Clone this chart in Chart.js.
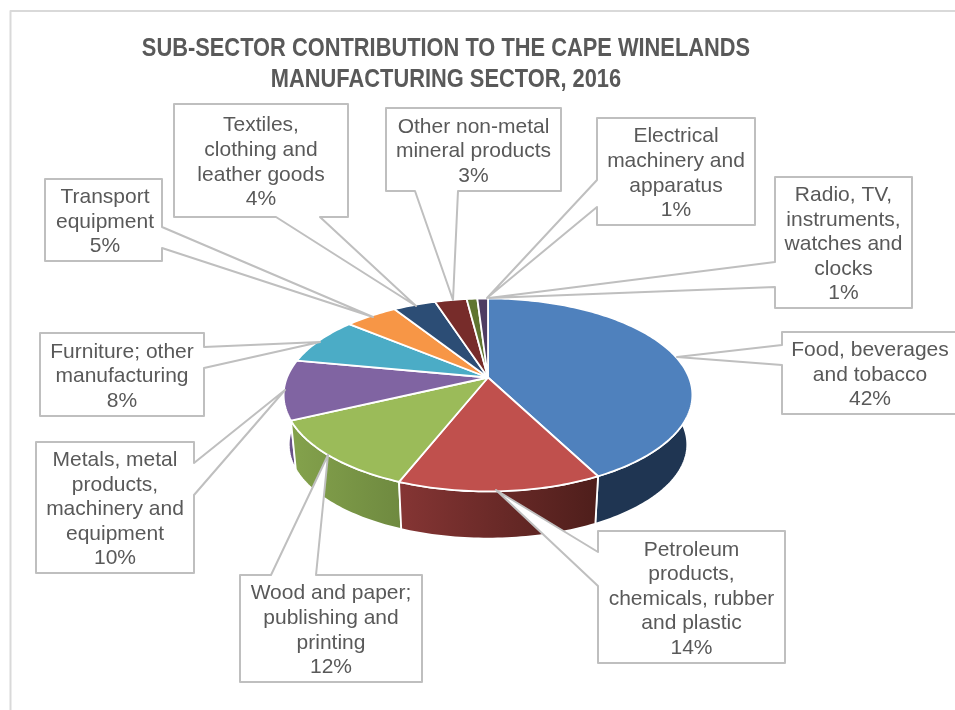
<!DOCTYPE html>
<html><head><meta charset="utf-8">
<style>html,body{margin:0;padding:0;background:#fff}#wrap{position:relative;width:955px;height:710px}canvas{display:block}</style>
<script src="https://cdn.jsdelivr.net/npm/chart.js@4"></script>
</head><body><div id="wrap"><canvas id="c" width="955" height="710"></canvas></div>
<script>
const categories = ["Food, beverages and tobacco","Petroleum products, chemicals, rubber and plastic","Wood and paper; publishing and printing","Metals, metal products, machinery and equipment","Furniture; other manufacturing","Transport equipment","Textiles, clothing and leather goods","Other non-metal mineral products","Electrical machinery and apparatus","Radio, TV, instruments, watches and clocks"];
const shares = [42.4,13.6,12,10,8,5,4,3,1,1];
const titleLines = ["SUB-SECTOR CONTRIBUTION TO THE CAPE WINELANDS","MANUFACTURING SECTOR, 2016"];
const labelLines = [
 ["Food, beverages","and tobacco"],
 ["Petroleum","products,","chemicals, rubber","and plastic"],
 ["Wood and paper;","publishing and","printing"],
 ["Metals, metal","products,","machinery and","equipment"],
 ["Furniture; other","manufacturing"],
 ["Transport","equipment"],
 ["Textiles,","clothing and","leather goods"],
 ["Other non-metal","mineral products"],
 ["Electrical","machinery and","apparatus"],
 ["Radio, TV,","instruments,","watches and","clocks"]
];
const topColors = ["#4f81bd","#c0504d","#9bbb59","#8064a2","#4bacc6","#f79646","#2c4d75","#772c2a","#5f7530","#4d3b62"];
const wallFrom = ["#1f3552","#853534","#84a24c","#6b5389","#3f8fa5","#c97a38","#24405f","#5f2321","#4c5e26","#3e2f4f"];
const wallTo = ["#1f3552","#4e1e1b","#6f8a40","#614b80","#3f8fa5","#c97a38","#24405f","#5f2321","#4c5e26","#3e2f4f"];
// callout geometry: box [x0,y0,x1,y1], side the pointer leaves from, two attach coords on this side, tip [x,y]
const boxes = [[782,332,958,414],[598,531,785,663],[240,575,422,682],[36,442,194,573],[40,333,204,416],[45,179,162,261],[174,104,348,217],[386,108,561,191],[597,118,755,225],[775,177,912,308]];
const sides = ["left","left","top","right","right","right","bottom","bottom","left","left"];
const attach = [[345,365],[552,586],[271,316],[463,495],[347,368],[227,248],[276,320],[415,458],[180,207],[262,287]];
const tips = [[677,357],[496,490],[328,455],[285,390],[320,342],[373,317],[416,306],[453,300],[487,298],[489,298]];
const labelShift = [0,0,0,0,0,1.5,0,0,0,0];

const view = {cx:488, cy:377.5, a:201, q:93.3, p:0.181, depth:50, shrink:0.975};
const titleFit = {centre:446, squeeze:0.84};
function proj(el, theta, bottom){
  const X=Math.sin(theta), Y=-Math.cos(theta), w=1-view.p*Y, s=bottom?view.shrink:1;
  return [view.cx+s*view.a*X/w, view.cy+(bottom?view.depth:0)+s*view.q*Y/w];
}
function rim(ctx, el, a, b, bottom, first){
  const n=Math.max(2,Math.ceil(Math.abs(b-a)/0.02));
  for(let i=0;i<=n;i++){
    const t=a+(b-a)*i/n, pt=proj(el,t,bottom);
    if(i===0&&first) ctx.moveTo(pt[0],pt[1]); else ctx.lineTo(pt[0],pt[1]);
  }
}
const pie3d = {
  id:'pie3d',
  afterLayout(chart){
    const tb=chart.titleBlock;
    if(tb && !tb._squeezed){
      const orig=tb.draw.bind(tb);
      tb.draw=function(area){
        const ctx=chart.ctx;
        ctx.save();
        ctx.translate(titleFit.centre,0); ctx.scale(titleFit.squeeze,1); ctx.translate(-titleFit.centre,0);
        orig(area);
        ctx.restore();
      };
      tb._squeezed=true;
    }
  },
  beforeDatasetDraw(){ return false; },
  afterDatasetsDraw(chart){
    const ctx=chart.ctx, arcs=chart.getDatasetMeta(0).data;
    const ang=arcs.map(el=>{const p=el.getProps(['startAngle','endAngle'],true);return [p.startAngle+Math.PI/2,p.endAngle+Math.PI/2];});
    ctx.save();
    ctx.lineJoin='round';
    // walls
    const order=arcs.map((_,i)=>i).sort((i,j)=>{
      return -Math.cos((ang[i][0]+ang[i][1])/2)+Math.cos((ang[j][0]+ang[j][1])/2);
    });
    order.forEach(i=>{
      const [a,b]=ang[i];
      const p0=proj(arcs[i],a,false), p1=proj(arcs[i],b,false);
      const g=ctx.createLinearGradient(Math.min(p0[0],p1[0]),0,Math.max(p0[0],p1[0]),0);
      g.addColorStop(0,wallFrom[i]); g.addColorStop(1,wallTo[i]);
      ctx.beginPath();
      rim(ctx,arcs[i],a,b,false,true);
      rim(ctx,arcs[i],b,a,true,false);
      ctx.closePath();
      ctx.fillStyle=g; ctx.fill();
      ctx.strokeStyle='#fff'; ctx.lineWidth=1.8; ctx.stroke();
    });
    // top faces
    arcs.forEach((el,i)=>{
      const [a,b]=ang[i];
      ctx.beginPath();
      ctx.moveTo(view.cx,view.cy);
      rim(ctx,el,a,b,false,false);
      ctx.closePath();
      ctx.fillStyle=topColors[i]; ctx.fill();
      ctx.strokeStyle='#fff'; ctx.lineWidth=1.8; ctx.stroke();
    });
    // callouts
    ctx.font='21px "Liberation Sans", Arial, sans-serif';
    ctx.textAlign='center'; ctx.textBaseline='middle';
    boxes.forEach((bx,i)=>{
      const [x0,y0,x1,y1]=bx, [u,v]=attach[i], t=tips[i], s=sides[i];
      ctx.beginPath();
      ctx.moveTo(x0,y0);
      if(s==='top'){ctx.lineTo(u,y0);ctx.lineTo(t[0],t[1]);ctx.lineTo(v,y0);}
      ctx.lineTo(x1,y0);
      if(s==='right'){ctx.lineTo(x1,u);ctx.lineTo(t[0],t[1]);ctx.lineTo(x1,v);}
      ctx.lineTo(x1,y1);
      if(s==='bottom'){ctx.lineTo(v,y1);ctx.lineTo(t[0],t[1]);ctx.lineTo(u,y1);}
      ctx.lineTo(x0,y1);
      if(s==='left'){ctx.lineTo(x0,v);ctx.lineTo(t[0],t[1]);ctx.lineTo(x0,u);}
      ctx.closePath();
      ctx.fillStyle='#fff'; ctx.fill();
      ctx.strokeStyle='#bfbfbf'; ctx.lineWidth=2; ctx.stroke();
      const lines=labelLines[i].concat([Math.round(shares[i])+'%']);
      const lh=24.6, mid=(y0+y1)/2+2, start=mid-(lines.length-1)*lh/2;
      ctx.fillStyle='#595959';
      lines.forEach((ln,k)=>ctx.fillText(ln,(x0+x1)/2+labelShift[i],start+k*lh));
    });
    // outer frame
    ctx.strokeStyle='#d9d9d9'; ctx.lineWidth=2;
    ctx.beginPath(); ctx.moveTo(10.5,710); ctx.lineTo(10.5,11); ctx.lineTo(955,11); ctx.stroke();
    ctx.restore();
  }
};
new Chart(document.getElementById('c'),{
  type:'pie',
  plugins:[pie3d],
  data:{labels:categories,datasets:[{data:shares,backgroundColor:topColors,borderColor:'#fff',borderWidth:1.5}]},
  options:{
    responsive:false,animation:false,
    layout:{padding:{left:0,right:63,top:0,bottom:0}},
    plugins:{
      legend:{display:false},tooltip:{enabled:false},
      title:{display:true,text:titleLines,color:'#595959',padding:{top:33,bottom:10},
        font:{family:'"Liberation Sans",Arial,sans-serif',size:26,weight:'bold',lineHeight:1.2}}
    }
  }
});
</script></body></html>
